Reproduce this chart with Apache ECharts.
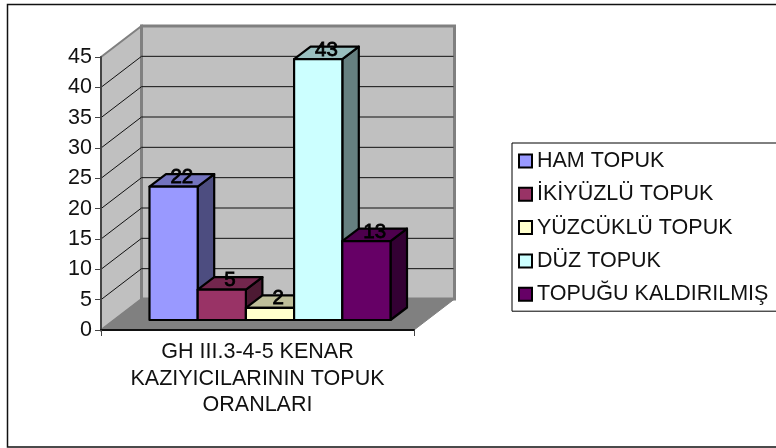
<!DOCTYPE html>
<html><head><meta charset="utf-8">
<style>html,body{margin:0;padding:0;background:#fff;overflow:hidden}#c{width:776px;height:448px}</style>
<script src="https://cdn.jsdelivr.net/npm/echarts@6/dist/echarts.min.js"></script>
</head><body><div id="c"></div>
<script>
const categories = ['GH III.3-4-5 KENAR\nKAZIYICILARININ TOPUK\nORANLARI'];
const seriesNames = ['HAM TOPUK','İKİYÜZLÜ TOPUK','YÜZCÜKLÜ TOPUK','DÜZ TOPUK','TOPUĞU KALDIRILMIŞ'];
const seriesValues = [22,5,2,43,13];
const frontColors = ['#9999FF','#993366','#FFFFCC','#CCFFFF','#660066'];
const sideColors = ['#4D4D80','#4D1A33','#808066','#668080','#330033'];
const topColors = ['#7373BF','#73264D','#BFBF99','#99BFBF','#4D004D'];
const yTicks = [0,5,10,15,20,25,30,35,40,45];
const FONT = '"Liberation Sans", Arial, sans-serif';
const DX = 40.5, DY = 31;        // wall depth
const BX = 16.5, BY = 12.5;      // bar depth
const OX = 12.5, OY = 10;        // bar inset from the front plane
const BAND_W = 0.154;            // bar width as share of the category band

function wallItem(params, api){
  const cs = params.coordSys;
  const l = cs.x, r = cs.x + cs.width, t = cs.y, b = cs.y + cs.height;
  const children = [
    {type:'polygon',shape:{points:[[l,t],[l+DX,t-DY],[l+DX,b-DY],[l,b]]},style:{fill:'#C0C0C0',stroke:'#808080',lineWidth:2}},
    {type:'polygon',shape:{points:[[l+DX,t-DY],[r+DX,t-DY],[r+DX,b-DY],[l+DX,b-DY]]},style:{fill:'#C0C0C0',stroke:'#808080',lineWidth:3}},
    {type:'polygon',shape:{points:[[l,b],[l+DX,b-DY],[r+DX,b-DY],[r,b]]},style:{fill:'#808080',stroke:'#808080',lineWidth:1}}
  ];
  yTicks.forEach(v=>{
    if(v===0||v===45) return;
    const y = api.coord([0,v])[1];
    children.push({type:'polyline',shape:{points:[[l,y],[l+DX,y-DY],[r+DX-1,y-DY]]},style:{fill:null,stroke:'#111',lineWidth:1}});
  });
  return {type:'group',children};
}
function barItem(idx){
  return function(params, api){
    const band = api.size([1,0])[0];
    const w = band*BAND_W;
    const base = api.coord([0,0]);
    const top = api.coord([0,api.value(1)]);
    const x0 = base[0]-w*seriesValues.length/2 + w*idx + OX;
    const x1 = x0+w;
    const y0 = base[1]-OY, y1 = top[1]-OY;
    const st = f=>({fill:f,stroke:'#000',lineWidth:2.2,lineJoin:'round'});
    return {type:'group',children:[
      {type:'polygon',shape:{points:[[x1,y0],[x1+BX,y0-BY],[x1+BX,y1-BY],[x1,y1]]},style:st(sideColors[idx])},
      {type:'polygon',shape:{points:[[x0,y1],[x0+BX,y1-BY],[x1+BX,y1-BY],[x1,y1]]},style:st(topColors[idx])},
      {type:'rect',shape:{x:x0,y:y1,width:w,height:y0-y1},style:st(frontColors[idx])},
      {type:'text',z2:50,style:{x:(x0+x1)/2+BX/2,y:y1-BY/2-3,text:String(api.value(1)),fill:'#000',font:'20.5px '+FONT,stroke:'#000',lineWidth:0.8,align:'center',verticalAlign:'middle'}}
    ]};
  };
}
const series = [{
  type:'custom',name:'walls',silent:true,clip:false,z:1,coordinateSystem:'cartesian2d',
  data:[[0,0]],renderItem:wallItem
}].concat(seriesNames.map((n,i)=>({
  type:'custom',name:n,clip:false,z:2+i,coordinateSystem:'cartesian2d',
  itemStyle:{color:frontColors[i]},
  encode:{x:0,y:1},
  data:[[0,seriesValues[i]]],renderItem:barItem(i)
})));
const chart = echarts.init(document.getElementById('c'),null,{renderer:'canvas'});
chart.setOption({
  animation:false,backgroundColor:'#fff',
  graphic:[{type:'rect',z:-1,shape:{x:7.5,y:4.5,width:820,height:442.5},style:{fill:'#fff',stroke:'#111',lineWidth:1.5}}],
  grid:{left:101,top:57,width:313,height:273,containLabel:false},
  xAxis:{type:'category',data:categories,
    axisLine:{show:true,lineStyle:{color:'#111',width:2}},
    axisTick:{show:true,length:6,alignWithLabel:false,lineStyle:{color:'#444',width:1}},
    axisLabel:{interval:0,color:'#111',fontFamily:FONT,fontSize:21.5,lineHeight:26.5,margin:9,align:'center'},
    z:20},
  yAxis:{type:'value',min:0,max:45,interval:5,
    axisLine:{show:true,onZero:false,lineStyle:{color:'#444',width:2}},
    axisTick:{show:true,length:6,lineStyle:{color:'#444',width:1}},
    axisLabel:{color:'#111',fontFamily:FONT,fontSize:21.5,margin:9},
    splitLine:{show:false},z:20},
  legend:{show:true,orient:'vertical',left:512,top:143,padding:[7,40,6,6],
    data:seriesNames,itemWidth:13,itemHeight:13,itemGap:11.3,
    backgroundColor:'#fff',borderColor:'#000',borderWidth:1,
    icon:'rect',selectedMode:false,
    itemStyle:{borderColor:'#000',borderWidth:2},
    textStyle:{color:'#111',fontFamily:FONT,fontSize:21.5,lineHeight:20}},
  series
});
</script></body></html>
